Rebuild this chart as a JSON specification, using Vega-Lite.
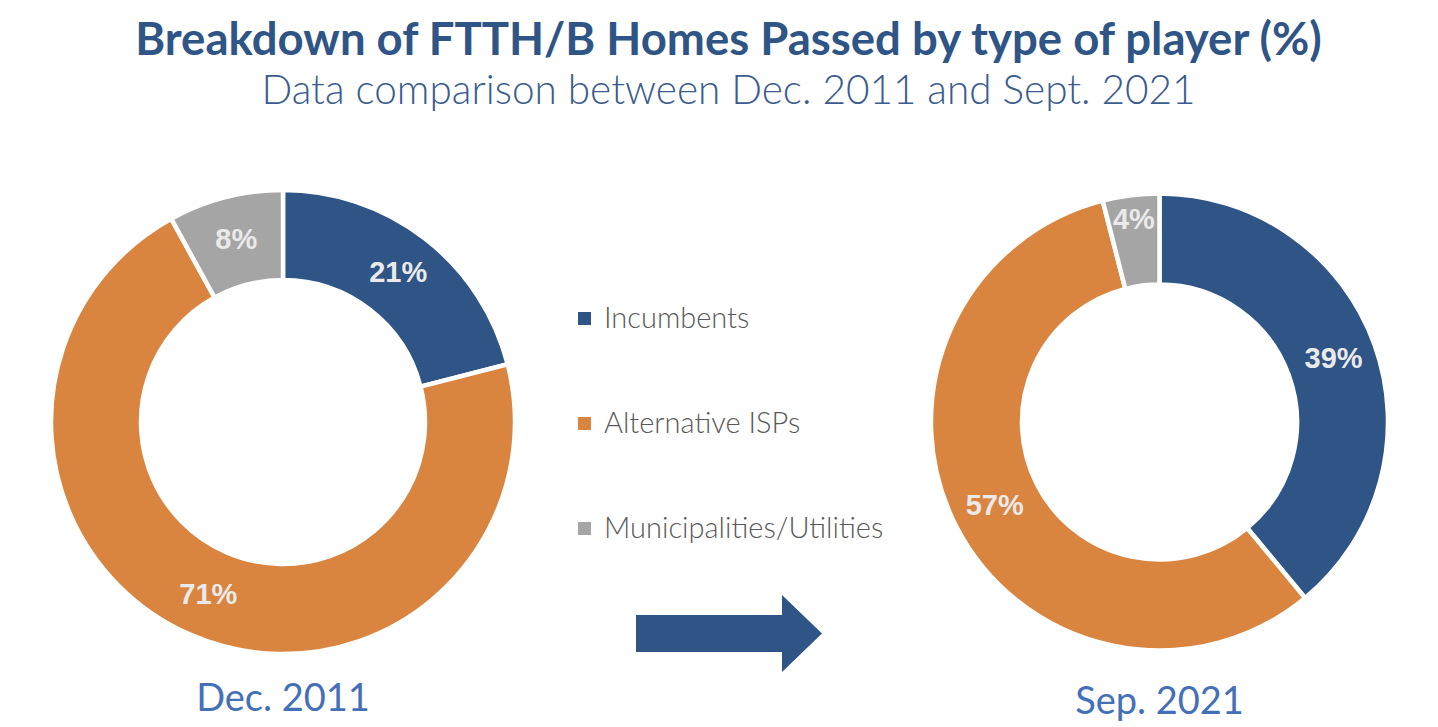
{
  "$schema": "https://vega.github.io/schema/vega-lite/v6.json",
  "background": "white",
  "padding": {"left": 0, "right": 0, "top": 19, "bottom": 0},
  "title": {
    "text": "Breakdown of FTTH/B Homes Passed by type of player (%)",
    "subtitle": "Data comparison between Dec. 2011 and Sept. 2021",
    "anchor": "middle",
    "dx": 15,
    "font": "Lato",
    "fontSize": 45.5,
    "fontWeight": "bold",
    "color": "#2F5486",
    "subtitleFont": "Lato",
    "subtitleFontSize": 40.5,
    "subtitleFontWeight": 300,
    "subtitleColor": "#3A5C8E",
    "subtitlePadding": 7,
    "offset": 69
  },
  "datasets": {
    "dec2011": [
      {"player": "Incumbents", "value": 0.21, "rank": 1},
      {"player": "Alternative ISPs", "value": 0.71, "rank": 2},
      {"player": "Municipalities/Utilities", "value": 0.08, "rank": 3}
    ],
    "sep2021": [
      {"player": "Incumbents", "value": 0.39, "rank": 1},
      {"player": "Alternative ISPs", "value": 0.57, "rank": 2},
      {"player": "Municipalities/Utilities", "value": 0.04, "rank": 3}
    ]
  },
  "spacing": 0,
  "hconcat": [
    {
      "width": 566,
      "height": 464,
      "data": {"name": "dec2011"},
      "title": {"text": "Dec. 2011", "orient": "bottom", "anchor": "middle", "font": "Lato", "fontSize": 38, "fontWeight": "normal", "color": "#4470B8", "offset": 18},
      "encoding": {
        "theta": {"field": "value", "type": "quantitative", "stack": true},
        "order": {"field": "rank", "type": "quantitative"},
        "color": {
          "field": "player",
          "type": "nominal",
          "scale": {"domain": ["Incumbents", "Alternative ISPs", "Municipalities/Utilities"], "range": ["#2F5486", "#D9843F", "#A5A5A5"]},
          "legend": {"orient": "none", "legendX": 570, "legendY": 114, "title": null, "symbolType": "square", "symbolSize": 169, "symbolStrokeWidth": 0, "labelFont": "Lato", "labelFontSize": 29, "labelFontWeight": 300, "labelColor": "#595959", "labelOffset": 5, "rowPadding": 75, "padding": 0, "labelLimit": 400}
        }
      },
      "layer": [
        {"mark": {"type": "arc", "outerRadius": 232, "innerRadius": 142, "stroke": "white", "strokeWidth": 4.5}},
        {
          "mark": {"type": "text", "radius": 188, "font": "Liberation Sans", "fontSize": 29, "fontWeight": "bold"},
          "encoding": {"text": {"field": "value", "type": "quantitative", "format": ".0%"}, "color": {"value": "#EAEAEA"}}
        }
      ]
    },
    {
      "spacing": 0,
      "vconcat": [
        {"width": 326, "height": 404, "data": {"values": []}, "mark": "point"},
        {
          "width": 326,
          "height": 77,
          "data": {"values": [{"shape": "arrow"}]},
          "mark": {"type": "point", "shape": "M -1 -0.2 L 0.57 -0.2 L 0.57 -0.414 L 1 0 L 0.57 0.414 L 0.57 0.2 L -1 0.2 Z", "size": 34596, "filled": true, "color": "#2F5486", "opacity": 1, "strokeWidth": 0}
        }
      ]
    },
    {
      "width": 535,
      "height": 464,
      "data": {"name": "sep2021"},
      "title": {"text": "Sep. 2021", "orient": "bottom", "anchor": "middle", "font": "Lato", "fontSize": 38, "fontWeight": "normal", "color": "#4470B8", "offset": 24},
      "encoding": {
        "theta": {"field": "value", "type": "quantitative", "stack": true},
        "order": {"field": "rank", "type": "quantitative"},
        "color": {
          "field": "player",
          "type": "nominal",
          "scale": {"domain": ["Incumbents", "Alternative ISPs", "Municipalities/Utilities"], "range": ["#2F5486", "#D9843F", "#A5A5A5"]},
          "legend": {"orient": "none", "legendX": 570, "legendY": 114, "title": null, "symbolType": "square", "symbolSize": 169, "symbolStrokeWidth": 0, "labelFont": "Lato", "labelFontSize": 29, "labelFontWeight": 300, "labelColor": "#595959", "labelOffset": 5, "rowPadding": 75, "padding": 0, "labelLimit": 400}
        }
      },
      "layer": [
        {"mark": {"type": "arc", "outerRadius": 228.5, "innerRadius": 137.5, "stroke": "white", "strokeWidth": 4.5}},
        {
          "mark": {"type": "text", "radius": 185, "font": "Liberation Sans", "fontSize": 29, "fontWeight": "bold"},
          "encoding": {
            "text": {"field": "value", "type": "quantitative", "format": ".0%"},
            "color": {"value": "#EAEAEA"},
            "opacity": {"condition": {"test": "datum.value < 0.05", "value": 0}, "value": 1}
          }
        },
        {
          "mark": {"type": "text", "radius": 204, "font": "Liberation Sans", "fontSize": 29, "fontWeight": "bold"},
          "encoding": {
            "text": {"field": "value", "type": "quantitative", "format": ".0%"},
            "color": {"value": "#EAEAEA"},
            "opacity": {"condition": {"test": "datum.value < 0.05", "value": 1}, "value": 0}
          }
        }
      ]
    }
  ],
  "config": {"view": {"stroke": null}}
}
